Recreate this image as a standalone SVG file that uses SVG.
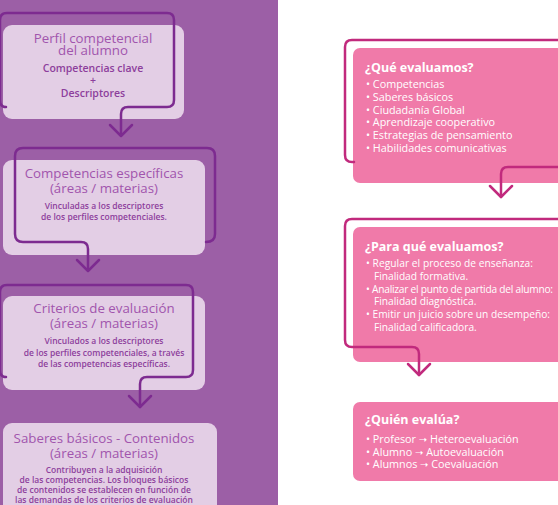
<svg xmlns="http://www.w3.org/2000/svg" width="558" height="505" viewBox="0 0 558 505">
<style>
.lbox{fill:#e3cee5}
.pbox{fill:#f07aa9}
.lc{fill:none;stroke:#7d2b90;stroke-width:2.5;stroke-linecap:round;stroke-linejoin:round}
.pc{fill:none;stroke:#c12a7d;stroke-width:2.5;stroke-linecap:round;stroke-linejoin:round}
.t{font-family:"Open Sans","Noto Sans",sans-serif;font-size:13.3px;fill:#a155ad;text-anchor:middle}
.s{font-family:"Open Sans","Noto Sans",sans-serif;font-size:8.5px;font-weight:600;fill:#8d3e9c;text-anchor:middle}
.s1{font-size:10.5px}
.h{font-family:"Open Sans","Noto Sans",sans-serif;font-size:12.5px;font-weight:700;fill:#ffffff}
.l{font-family:"Open Sans","Noto Sans",sans-serif;font-size:10.8px;fill:#ffffff}
.l2{font-size:10.2px}
.ar{font-family:"DejaVu Sans",sans-serif;font-size:10px}
</style>
<rect x="0" y="0" width="278" height="505" fill="#9c5fa6"/>
<rect x="278" y="0" width="280" height="505" fill="#ffffff"/>

<g id="node-perfil">
<rect class="lbox" x="3" y="25" width="181" height="94" rx="9"/>
<text class="t" x="93" y="43">Perfil competencial</text>
<text class="t" x="93" y="54.5">del alumno</text>
<text class="s s1" x="93" y="72">Competencias clave</text>
<text class="s s1" x="93" y="84">+</text>
<text class="s s1" x="93" y="97">Descriptores</text>
</g>

<g id="node-competencias">
<rect class="lbox" x="3" y="160" width="202" height="95" rx="9"/>
<text class="t" x="104" y="178">Competencias específicas</text>
<text class="t" x="104" y="193">(áreas / materias)</text>
<text class="s" x="104" y="209">Vinculadas a los descriptores</text>
<text class="s" x="104" y="220">de los perfiles competenciales.</text>
</g>

<g id="node-criterios">
<rect class="lbox" x="3" y="296" width="202" height="94" rx="9"/>
<text class="t" x="104" y="313">Criterios de evaluación</text>
<text class="t" x="104" y="328">(áreas / materias)</text>
<text class="s" x="104" y="344">Vinculados a los descriptores</text>
<text class="s" x="104" y="355.5">de los perfiles competenciales, a través</text>
<text class="s" x="104" y="367">de las competencias específicas.</text>
</g>

<g id="node-saberes">
<rect class="lbox" x="3" y="423" width="214" height="100" rx="9"/>
<text class="t" x="104" y="443">Saberes básicos - Contenidos</text>
<text class="t" x="104" y="458">(áreas / materias)</text>
<text class="s" x="104" y="473">Contribuyen a la adquisición</text>
<text class="s" x="104" y="483">de las competencias. Los bloques básicos</text>
<text class="s" x="104" y="493">de contenidos se establecen en función de</text>
<text class="s" x="104" y="503">las demandas de los criterios de evaluación</text>
</g>

<g id="node-que">
<rect class="pbox" x="353" y="48" width="215" height="135" rx="7"/>
<text class="h" x="365" y="72">¿Qué evaluamos?</text>
<text class="l" x="366" y="88">• Competencias</text>
<text class="l" x="366" y="101">• Saberes básicos</text>
<text class="l" x="366" y="113.5">• Ciudadanía Global</text>
<text class="l" x="366" y="126">• Aprendizaje cooperativo</text>
<text class="l" x="366" y="139">• Estrategias de pensamiento</text>
<text class="l" x="366" y="152">• Habilidades comunicativas</text>
</g>

<g id="node-para">
<rect class="pbox" x="353" y="227" width="215" height="135" rx="7"/>
<text class="h" x="365" y="251">¿Para qué evaluamos?</text>
<text class="l l2" x="366" y="267" textLength="167" lengthAdjust="spacing">• Regular el proceso de enseñanza:</text>
<text class="l l2" x="374" y="280">Finalidad formativa.</text>
<text class="l l2" x="366" y="292.5" textLength="187" lengthAdjust="spacing">• Analizar el punto de partida del alumno:</text>
<text class="l l2" x="374" y="305">Finalidad diagnóstica.</text>
<text class="l l2" x="366" y="318" textLength="184" lengthAdjust="spacing">• Emitir un juicio sobre un desempeño:</text>
<text class="l l2" x="374" y="330.5">Finalidad calificadora.</text>
</g>

<g id="node-quien">
<rect class="pbox" x="353" y="402" width="215" height="79" rx="7"/>
<text class="h" x="365" y="424">¿Quién evalúa?</text>
<text class="l" x="366" y="443">• Profesor <tspan class="ar">➝</tspan> Heteroevaluación</text>
<text class="l" x="366" y="455.5">• Alumno <tspan class="ar">➝</tspan> Autoevaluación</text>
<text class="l" x="366" y="468">• Alumnos <tspan class="ar">➝</tspan> Coevaluación</text>
</g>

<g id="connectors">
<path class="lc" d="M 6 107 Q 0 107 0 100 V 20 Q 0 13 7 13 H 167 Q 174 13 174 20 V 100 Q 174 107 167 107 H 128 Q 121 107 121 114 V 135"/>
<path class="lc" d="M 110 125 L 121 136 L 132 125"/>
<path class="lc" d="M 206 242 Q 215 242 215 234 V 156 Q 215 148 207 148 H 23 Q 15 148 15 156 V 234 Q 15 242 23 242 H 81 Q 88 242 88 249 V 270"/>
<path class="lc" d="M 77 260 L 88 271 L 99 260"/>
<path class="lc" d="M 6 377 Q 0 377 0 370 V 292 Q 0 285 7 285 H 186 Q 193 285 193 292 V 370 Q 193 377 186 377 H 147 Q 140 377 140 384 V 407"/>
<path class="lc" d="M 129 396 L 140 407 L 151 396"/>
<path class="pc" d="M 560 40 H 352 Q 345 40 345 47 V 155 Q 345 162 352 162 H 354"/>
<path class="pc" d="M 560 167 H 508 Q 501 167 501 174 V 197"/>
<path class="pc" d="M 490 186 L 501 197 L 512 186"/>
<path class="pc" d="M 560 219 H 352 Q 345 219 345 226 V 340 Q 345 347 352 347 H 412 Q 419 347 419 354 V 375"/>
<path class="pc" d="M 408 364 L 419 375 L 430 364"/>
</g>
</svg>
